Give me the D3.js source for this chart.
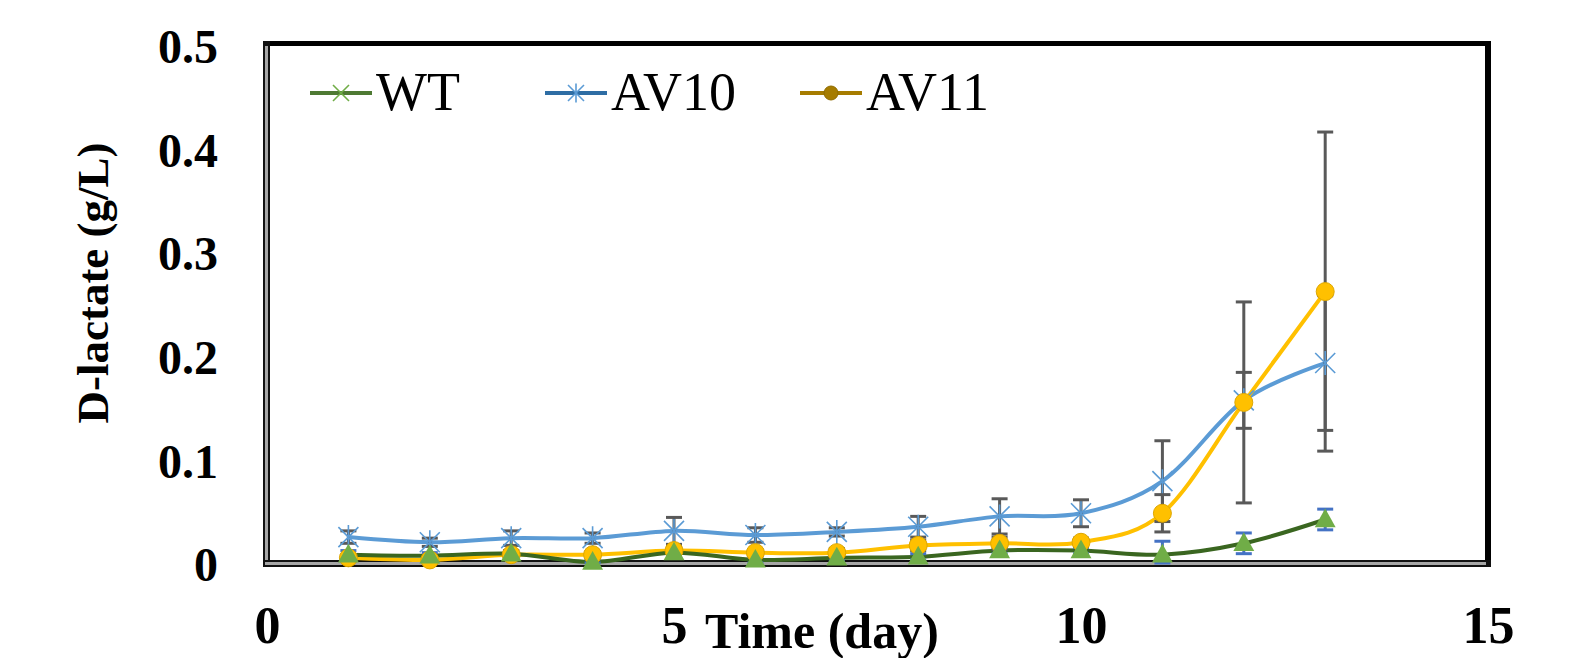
<!DOCTYPE html>
<html>
<head>
<meta charset="utf-8">
<script src="https://cdn.jsdelivr.net/npm/d3@7"></script>
<style>
  body { margin: 0; background: #fff; }
  svg text { font-family: "Liberation Serif", "Times New Roman", serif; }
</style>
</head>
<body>
<div id="chart"></div>
<script>
// Data (days 1..13)
const days = [1, 2, 3, 4, 5, 6, 7, 8, 9, 10, 11, 12, 13];
const wtValues   = [0.008, 0.007, 0.009, 0.001, 0.010, 0.003, 0.005, 0.006, 0.012, 0.012, 0.008, 0.019, 0.042];
const wtErr      = [0.004, 0.003, 0.003, 0.003, 0.003, 0.003, 0.003, 0.003, 0.003, 0.003, 0.013, 0.010, 0.010];
const av10Values = [0.025, 0.020, 0.024, 0.024, 0.031, 0.027, 0.030, 0.035, 0.045, 0.048, 0.079, 0.157, 0.193];
const av10Err    = [0.006, 0.004, 0.007, 0.005, 0.013, 0.007, 0.004, 0.010, 0.017, 0.013, 0.039, 0.027, 0.065];
const av11Values = [0.005, 0.003, 0.008, 0.008, 0.012, 0.010, 0.010, 0.017, 0.019, 0.020, 0.048, 0.155, 0.262];
const av11Err    = [0.003, 0.002, 0.004, 0.003, 0.004, 0.003, 0.004, 0.005, 0.006, 0.004, 0.018, 0.097, 0.154];

const xTicks = [0, 5, 10, 15];
const yTicks = [0, 0.1, 0.2, 0.3, 0.4, 0.5];
const yTickLabels = ["0", "0.1", "0.2", "0.3", "0.4", "0.5"];
const seriesNames = ["WT", "AV10", "AV11"];

const serif = "'Liberation Serif', 'Times New Roman', serif";
const W = 1574, H = 658;

const svg = d3.select("#chart")
    .append("svg")
    .attr("width", W)
    .attr("height", H);

const x = d3.scaleLinear().domain([0, 15]).range([267, 1488]);
const y = d3.scaleLinear().domain([0, 0.5]).range([563, 45]);

// Frame: thick black top/right, double line left/bottom
svg.append("rect").attr("x", 263).attr("y", 41).attr("width", 1228).attr("height", 5).attr("fill", "#000");
svg.append("rect").attr("x", 1485).attr("y", 41).attr("width", 6).attr("height", 526).attr("fill", "#000");
svg.append("rect").attr("x", 263).attr("y", 41).attr("width", 7).attr("height", 526).attr("fill", "#111");
svg.append("rect").attr("x", 265).attr("y", 46).attr("width", 3).attr("height", 517).attr("fill", "#a6a6a6");
svg.append("rect").attr("x", 263).attr("y", 560).attr("width", 1228).attr("height", 7).attr("fill", "#111");
svg.append("rect").attr("x", 265).attr("y", 562).attr("width", 1221).attr("height", 3).attr("fill", "#a6a6a6");

const series = [
    { name: "WT",   values: wtValues,   err: wtErr,   line: "#3a6620", errColor: "#4472c4", marker: "triangle", fill: "#70ad47" },
    { name: "AV10", values: av10Values, err: av10Err, line: "#5b9bd5", errColor: "#595959", marker: "star",     fill: "#5b9bd5" },
    { name: "AV11", values: av11Values, err: av11Err, line: "#ffc000", errColor: "#595959", marker: "circle",   fill: "#ffc000" }
];

const line = d3.line()
    .x(d => x(d.day))
    .y(d => y(d.v))
    .curve(d3.curveCardinal.tension(0));

const pts = s => days.map((d, i) => ({ day: d, v: s.values[i], e: s.err[i] }));

// lines
["AV10", "AV11", "WT"].forEach(n => {
    const s = series.find(k => k.name === n);
    svg.append("path")
        .datum(pts(s))
        .attr("d", line)
        .attr("fill", "none")
        .attr("stroke", s.line)
        .attr("stroke-width", 4);
});

// error bars
series.forEach(s => {
    const g = svg.append("g")
        .attr("stroke", s.errColor)
        .attr("stroke-width", 3);
    const data = pts(s);
    g.selectAll("line.v")
        .data(data)
        .enter().append("line")
        .attr("x1", d => x(d.day)).attr("x2", d => x(d.day))
        .attr("y1", d => y(d.v + d.e)).attr("y2", d => y(Math.max(0, d.v - d.e)));
    g.selectAll("line.t")
        .data(data)
        .enter().append("line")
        .attr("x1", d => x(d.day) - 8).attr("x2", d => x(d.day) + 8)
        .attr("y1", d => y(d.v + d.e)).attr("y2", d => y(d.v + d.e));
    g.selectAll("line.b")
        .data(data)
        .enter().append("line")
        .attr("x1", d => x(d.day) - 8).attr("x2", d => x(d.day) + 8)
        .attr("y1", d => y(Math.max(0, d.v - d.e))).attr("y2", d => y(Math.max(0, d.v - d.e)));
});

// markers
function drawMarker(g, type, cx, cy, color, size) {
    if (type === "circle") {
        g.append("circle").attr("cx", cx).attr("cy", cy).attr("r", size)
            .attr("fill", color).attr("stroke", d3.color(color).darker(0.4)).attr("stroke-width", 1);
    } else if (type === "triangle") {
        const r = size;
        g.append("path")
            .attr("d", `M${cx},${cy - r}L${cx + r * 0.95},${cy + r * 0.7}L${cx - r * 0.95},${cy + r * 0.7}Z`)
            .attr("fill", color);
    } else if (type === "star" || type === "x") {
        const r = size;
        const p = `M${cx - r},${cy - r}L${cx + r},${cy + r}M${cx - r},${cy + r}L${cx + r},${cy - r}` +
            (type === "star" ? `M${cx},${cy - r * 1.2}L${cx},${cy + r * 1.2}` : "");
        g.append("path").attr("d", p).attr("fill", "none")
            .attr("stroke", color).attr("stroke-width", 1.6);
    }
}

["AV10", "AV11", "WT"].forEach(n => {
    const s = series.find(k => k.name === n);
    const g = svg.append("g");
    pts(s).forEach(d => {
        const sz = s.marker === "circle" ? 9 : (s.marker === "triangle" ? 11 : 10);
        drawMarker(g, s.marker, x(d.day), y(d.v), s.fill, sz);
    });
});

// Y axis labels
const yAxis = d3.axisLeft(y)
    .tickValues(yTicks)
    .tickSize(0)
    .tickPadding(0)
    .tickFormat((d, i) => yTickLabels[i]);

const yg = svg.append("g")
    .attr("transform", "translate(218,0)")
    .call(yAxis);
yg.select(".domain").remove();
yg.selectAll("text")
    .attr("dy", "0.37em")
    .style("font-family", serif)
    .style("font-weight", "bold")
    .style("font-size", "48px")
    .attr("fill", "#000");

// X axis labels
const xAxis = d3.axisBottom(x)
    .tickValues(xTicks)
    .tickSize(0)
    .tickFormat(d3.format("d"));

const xg = svg.append("g")
    .attr("transform", "translate(0,643)")
    .call(xAxis);
xg.select(".domain").remove();
xg.selectAll("text")
    .attr("y", 0)
    .attr("dy", 0)
    .style("font-family", serif)
    .style("font-weight", "bold")
    .style("font-size", "52px")
    .attr("fill", "#000");

// axis titles
svg.append("text")
    .attr("x", 705)
    .attr("y", 648)
    .style("font-family", serif)
    .style("font-weight", "bold")
    .style("font-size", "50px")
    .text("Time (day)");

svg.append("text")
    .attr("transform", "translate(108,283) rotate(-90)")
    .attr("text-anchor", "middle")
    .style("font-family", serif)
    .style("font-weight", "bold")
    .style("font-size", "45px")
    .text("D-lactate (g/L)");

// legend
const legendItems = [
    { name: seriesNames[0], x: 310, line: "#4e7a33", marker: "x",      mcolor: "#70ad47" },
    { name: seriesNames[1], x: 545, line: "#2e6da4", marker: "star",   mcolor: "#5b9bd5" },
    { name: seriesNames[2], x: 800, line: "#a67c00", marker: "circle", mcolor: "#a67c00" }
];
const legend = svg.append("g").attr("class", "legend");
legendItems.forEach(it => {
    legend.append("line")
        .attr("x1", it.x).attr("x2", it.x + 62)
        .attr("y1", 93).attr("y2", 93)
        .attr("stroke", it.line).attr("stroke-width", 4);
    drawMarker(legend, it.marker, it.x + 31, 93, it.mcolor, it.marker === "circle" ? 7 : 8);
    legend.append("text")
        .attr("x", it.x + 66)
        .attr("y", 110)
        .style("font-family", serif)
        .style("font-size", "54px")
        .text(it.name);
});
</script>
</body>
</html>
